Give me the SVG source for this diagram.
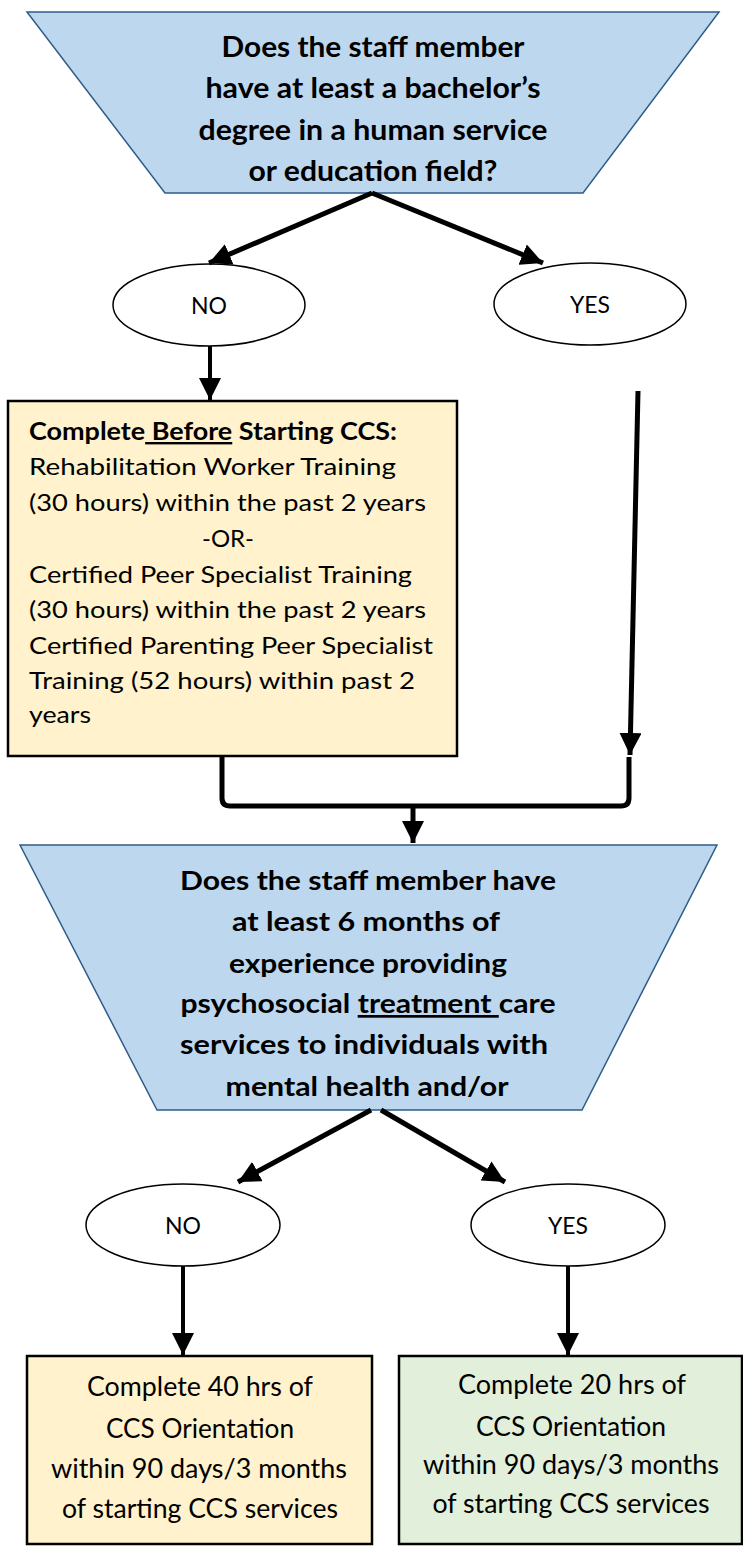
<svg xmlns="http://www.w3.org/2000/svg" width="743" height="1553" viewBox="0 0 743 1553">
<style>
.dec{fill:#BDD7EE;stroke:#2F5C8A;stroke-width:1.5}
.ell{fill:#fff;stroke:#000;stroke-width:1.5}
.box{stroke:#000;stroke-width:2.5}
.y{fill:#FFF2CC}
.g{fill:#E2EFDA}
.tb{font-family:Lato,"Open Sans",sans-serif;font-weight:bold;font-size:27px;fill:#000;text-anchor:middle}
.tb1{font-size:29px}
.t{font-family:Lato,"Open Sans",sans-serif;font-size:24px;fill:#000}
.tc{font-family:Lato,"Open Sans",sans-serif;font-size:26px;fill:#000;text-anchor:middle}
.lbl{font-family:Lato,"Open Sans",sans-serif;font-size:24px;fill:#000;text-anchor:middle}
.c{fill:none;stroke:#000;stroke-width:5;stroke-linecap:butt}
.c4{fill:none;stroke:#000;stroke-width:4}
</style>
<defs>
<marker id="ah" viewBox="0 0 10 10" refX="10" refY="5" markerWidth="22" markerHeight="22" markerUnits="userSpaceOnUse" orient="auto">
<path d="M0,0 L10,5 L0,10 z" fill="#000"/>
</marker>
</defs>

<g id="q1">
<polygon class="dec" points="27,12 719,12 583,193 165,193"/>
<text class="tb tb1" x="373" y="57" textLength="303" lengthAdjust="spacingAndGlyphs">Does the staff member</text>
<text class="tb tb1" x="373" y="98" textLength="335" lengthAdjust="spacingAndGlyphs">have at least a bachelor’s</text>
<text class="tb tb1" x="373" y="140" textLength="349" lengthAdjust="spacingAndGlyphs">degree in a human service</text>
<text class="tb tb1" x="373" y="181" textLength="249" lengthAdjust="spacingAndGlyphs">or education field?</text>
</g>

<g id="no1">
<ellipse class="ell" cx="209" cy="305" rx="96" ry="41"/>
<text class="lbl" x="209" y="314" textLength="36" lengthAdjust="spacingAndGlyphs">NO</text>
</g>

<g id="yes1">
<ellipse class="ell" cx="590" cy="304" rx="96" ry="41"/>
<text class="lbl" x="590" y="313" textLength="40" lengthAdjust="spacingAndGlyphs">YES</text>
</g>

<g id="train">
<rect class="box y" x="8" y="401" width="449" height="355"/>
<text class="t" x="29" y="440" font-weight="bold" textLength="368" lengthAdjust="spacingAndGlyphs">Complete<tspan text-decoration="underline"> Before</tspan> Starting CCS:</text>
<text class="t" x="29" y="475" textLength="367" lengthAdjust="spacingAndGlyphs">Rehabilitation Worker Training</text>
<text class="t" x="29" y="511" textLength="397" lengthAdjust="spacingAndGlyphs">(30 hours) within the past 2 years</text>
<text class="t" x="228" y="547" text-anchor="middle" textLength="52" lengthAdjust="spacingAndGlyphs">-OR-</text>
<text class="t" x="29" y="583" textLength="383" lengthAdjust="spacingAndGlyphs">Certified Peer Specialist Training</text>
<text class="t" x="29" y="618" textLength="397" lengthAdjust="spacingAndGlyphs">(30 hours) within the past 2 years</text>
<text class="t" x="29" y="654" textLength="404" lengthAdjust="spacingAndGlyphs">Certified Parenting Peer Specialist</text>
<text class="t" x="29" y="689" textLength="386" lengthAdjust="spacingAndGlyphs">Training (52 hours) within past 2</text>
<text class="t" x="29" y="723" textLength="62" lengthAdjust="spacingAndGlyphs">years</text>
</g>

<g id="q2">
<polygon class="dec" points="20,845 717,845 582,1110 157,1110"/>
<text class="tb" x="368" y="890" textLength="376" lengthAdjust="spacingAndGlyphs">Does the staff member have</text>
<text class="tb" x="366" y="931" textLength="268" lengthAdjust="spacingAndGlyphs">at least 6 months of</text>
<text class="tb" x="368" y="973" textLength="278" lengthAdjust="spacingAndGlyphs">experience providing</text>
<text class="tb" x="368" y="1013" textLength="375" lengthAdjust="spacingAndGlyphs">psychosocial <tspan text-decoration="underline">treatment </tspan>care</text>
<text class="tb" x="364" y="1054" textLength="368" lengthAdjust="spacingAndGlyphs">services to individuals with</text>
<text class="tb" x="367" y="1096" textLength="283" lengthAdjust="spacingAndGlyphs">mental health and/or</text>
</g>

<g id="no2">
<ellipse class="ell" cx="183" cy="1225" rx="97" ry="41"/>
<text class="lbl" x="183" y="1234" textLength="36" lengthAdjust="spacingAndGlyphs">NO</text>
</g>

<g id="yes2">
<ellipse class="ell" cx="568" cy="1225" rx="97" ry="41"/>
<text class="lbl" x="568" y="1234" textLength="40" lengthAdjust="spacingAndGlyphs">YES</text>
</g>

<g id="r40">
<rect class="box y" x="27" y="1356" width="345" height="188"/>
<text class="tc" x="200" y="1396" textLength="226" lengthAdjust="spacingAndGlyphs">Complete 40 hrs of</text>
<text class="tc" x="200" y="1438" textLength="188" lengthAdjust="spacingAndGlyphs">CCS Orientation</text>
<text class="tc" x="199" y="1478" textLength="296" lengthAdjust="spacingAndGlyphs">within 90 days/3 months</text>
<text class="tc" x="200" y="1518" textLength="276" lengthAdjust="spacingAndGlyphs">of starting CCS services</text>
</g>

<g id="r20">
<rect class="box g" x="399" y="1356" width="343" height="188"/>
<text class="tc" x="572" y="1394" textLength="228" lengthAdjust="spacingAndGlyphs">Complete 20 hrs of</text>
<text class="tc" x="571" y="1436" textLength="190" lengthAdjust="spacingAndGlyphs">CCS Orientation</text>
<text class="tc" x="571" y="1474" textLength="296" lengthAdjust="spacingAndGlyphs">within 90 days/3 months</text>
<text class="tc" x="571" y="1513" textLength="277" lengthAdjust="spacingAndGlyphs">of starting CCS services</text>
</g>

<g id="connectors">
<line class="c" x1="372" y1="193" x2="209" y2="263" marker-end="url(#ah)"/>
<line class="c" x1="372" y1="193" x2="543" y2="263" marker-end="url(#ah)"/>
<line class="c4" x1="210" y1="346" x2="210" y2="400" marker-end="url(#ah)"/>
<line class="c" x1="638" y1="391" x2="630" y2="755" marker-end="url(#ah)"/>
<path class="c" d="M222,757 L222,798 Q222,806 230,806 L621,806 Q629,806 629,798 L629,757"/>
<line class="c" x1="413" y1="806" x2="413" y2="843" marker-end="url(#ah)"/>
<line class="c" x1="371" y1="1110" x2="238" y2="1182" marker-end="url(#ah)"/>
<line class="c" x1="381" y1="1110" x2="505" y2="1182" marker-end="url(#ah)"/>
<line class="c4" x1="183" y1="1266" x2="183" y2="1355" marker-end="url(#ah)"/>
<line class="c4" x1="568" y1="1266" x2="568" y2="1355" marker-end="url(#ah)"/>
</g>
</svg>
